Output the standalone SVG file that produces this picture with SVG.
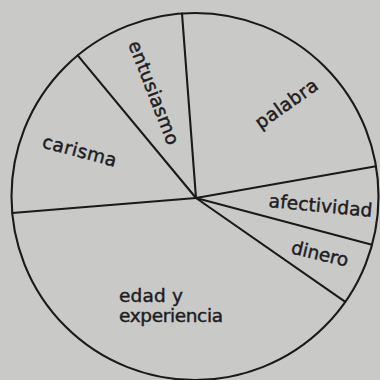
<svg xmlns="http://www.w3.org/2000/svg" width="380" height="380" viewBox="0 0 380 380">
<style>
.ln{stroke:#1a1a1a;stroke-width:2.1;fill:none;stroke-linecap:round}
.lb{font-family:"DejaVu Sans","Liberation Sans",sans-serif;font-size:18.5px;fill:#1e1c22;stroke:#1e1c22;stroke-width:0.45;text-anchor:middle}
</style>
<rect width="380" height="380" fill="#c9c9c7"/>
<g id="pie">
<circle class="ln" cx="195" cy="196.5" r="183.5"/>
</g>
<g id="connectors">
<line class="ln" x1="196" y1="198" x2="182" y2="13.5"/>
<line class="ln" x1="196" y1="198" x2="77.7" y2="55.4"/>
<line class="ln" x1="196" y1="198" x2="12.2" y2="213"/>
<line class="ln" x1="196" y1="198" x2="376" y2="166.2"/>
<line class="ln" x1="196" y1="198" x2="372" y2="244.7"/>
<line class="ln" x1="196" y1="198" x2="345.3" y2="301.8"/>
</g>
<g id="entusiasmo"><text class="lb" transform="translate(148,95) rotate(68.7)" textLength="110">entusiasmo</text></g>
<g id="palabra"><text class="lb" transform="translate(290,109) rotate(-35)" textLength="72">palabra</text></g>
<g id="carisma"><text class="lb" transform="translate(78,157) rotate(15)" textLength="76">carisma</text></g>
<g id="afectividad"><text class="lb" transform="translate(320,212) rotate(5.5)" textLength="104">afectividad</text></g>
<g id="dinero"><text class="lb" transform="translate(318.5,260) rotate(13.3)" textLength="58">dinero</text></g>
<g id="edad"><text class="lb" style="text-anchor:start" x="119" y="302" textLength="64">edad y</text><text class="lb" style="text-anchor:start" x="119" y="322" textLength="104">experiencia</text></g>
</svg>
